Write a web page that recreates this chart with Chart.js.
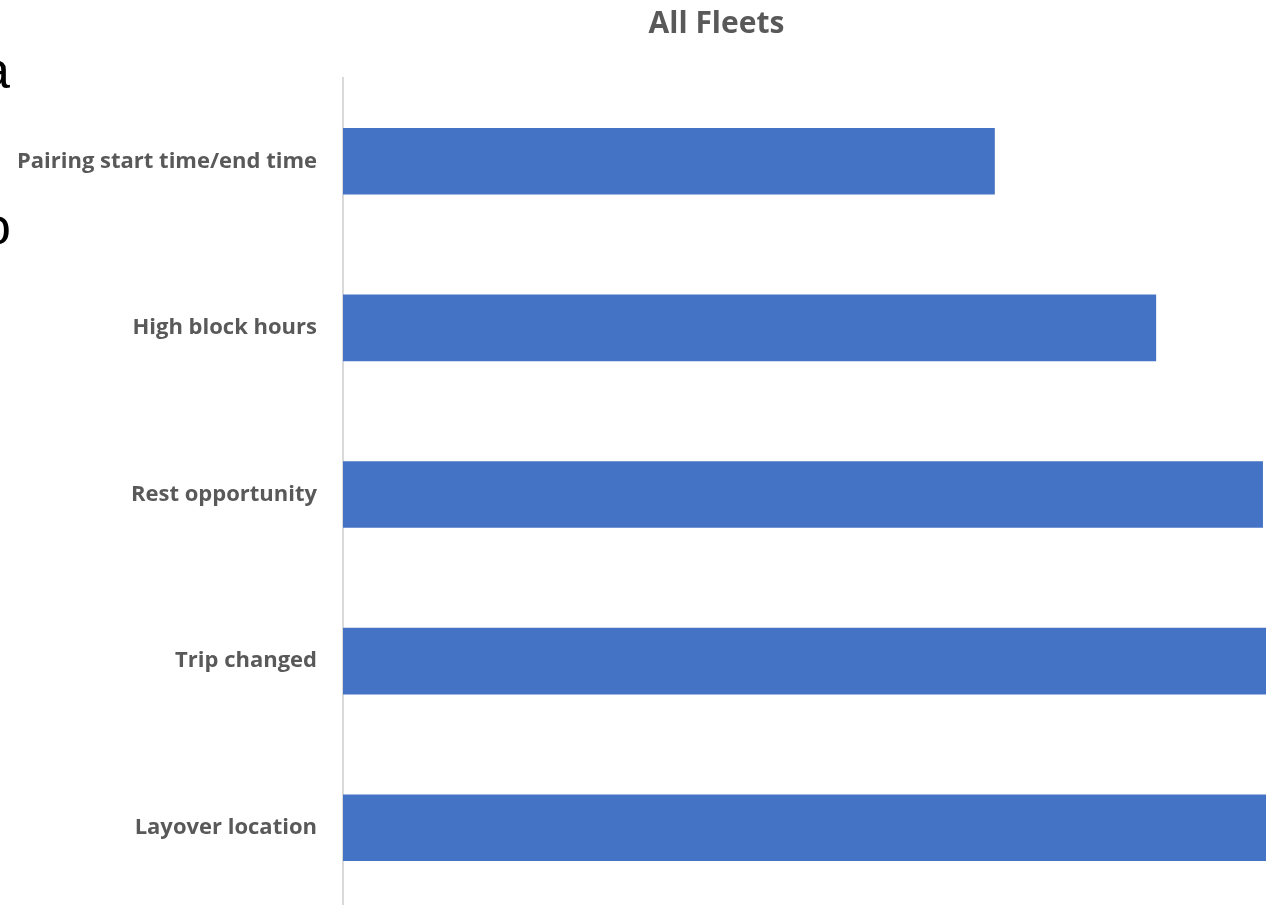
<!DOCTYPE html>
<html>
<head>
<meta charset="utf-8">
<script src="https://cdn.jsdelivr.net/npm/chart.js@4.4.0/dist/chart.umd.min.js"></script>
<style>
    html, body { margin: 0; padding: 0; background: #fff; overflow: hidden; width: 1266px; height: 905px; }
    #wrap { position: absolute; left: 0; top: 0; width: 1449px; height: 911px; }
    .stray { position: absolute; font-family: "Liberation Sans", Arial, sans-serif; font-size: 52px; color: #000; line-height: 1; }
</style>
</head>
<body>
<div class="stray" style="left:-19px; top:44px;">a</div>
<div class="stray" style="left:-18px; top:200px;">o</div>
<div id="wrap"><canvas id="fleetChart"></canvas></div>
<script>
const categories = ['Pairing start time/end time', 'High block hours', 'Rest opportunity', 'Trip changed', 'Layover location'];
const counts = [29.9, 37.3, 42.2, 45, 47];
const axisMax = 50;

window.onload = () => {
    const ctx = document.getElementById('fleetChart');
    const data = {
        labels: categories,
        datasets: [
            {
                data: counts,
                backgroundColor: '#4472C4',
                borderWidth: 0,
                barPercentage: 0.8,
                categoryPercentage: 0.5
            }
        ]
    };
    const config = {
        type: 'bar',
        data: data,
        options: {
            indexAxis: 'y',
            responsive: true,
            maintainAspectRatio: false,
            animation: false,
            layout: {
                padding: { top: 0, right: 16, bottom: 0, left: 0 }
            },
            plugins: {
                legend: { display: false },
                tooltip: { enabled: false },
                title: {
                    display: true,
                    text: 'All Fleets',
                    color: '#595959',
                    font: { family: 'Open Sans', size: 30, weight: 'bold' },
                    padding: { top: 6, bottom: 36 }
                }
            },
            scales: {
                x: {
                    display: false,
                    min: 0,
                    max: axisMax
                },
                y: {
                    afterFit: (axis) => {
                        // keep the label column fixed and stop tick padding from shrinking the plot
                        axis.width = 343;
                        axis.paddingTop = 0;
                        axis.paddingBottom = 0;
                    },
                    grid: { display: false, drawTicks: false },
                    border: { display: true, color: '#d9d9d9', width: 2 },
                    ticks: {
                        color: '#595959',
                        padding: 26,
                        font: { family: 'Open Sans', size: 22, weight: 'bold' }
                    }
                }
            }
        }
    };

    new Chart(ctx, config);
};
</script>
</body>
</html>
